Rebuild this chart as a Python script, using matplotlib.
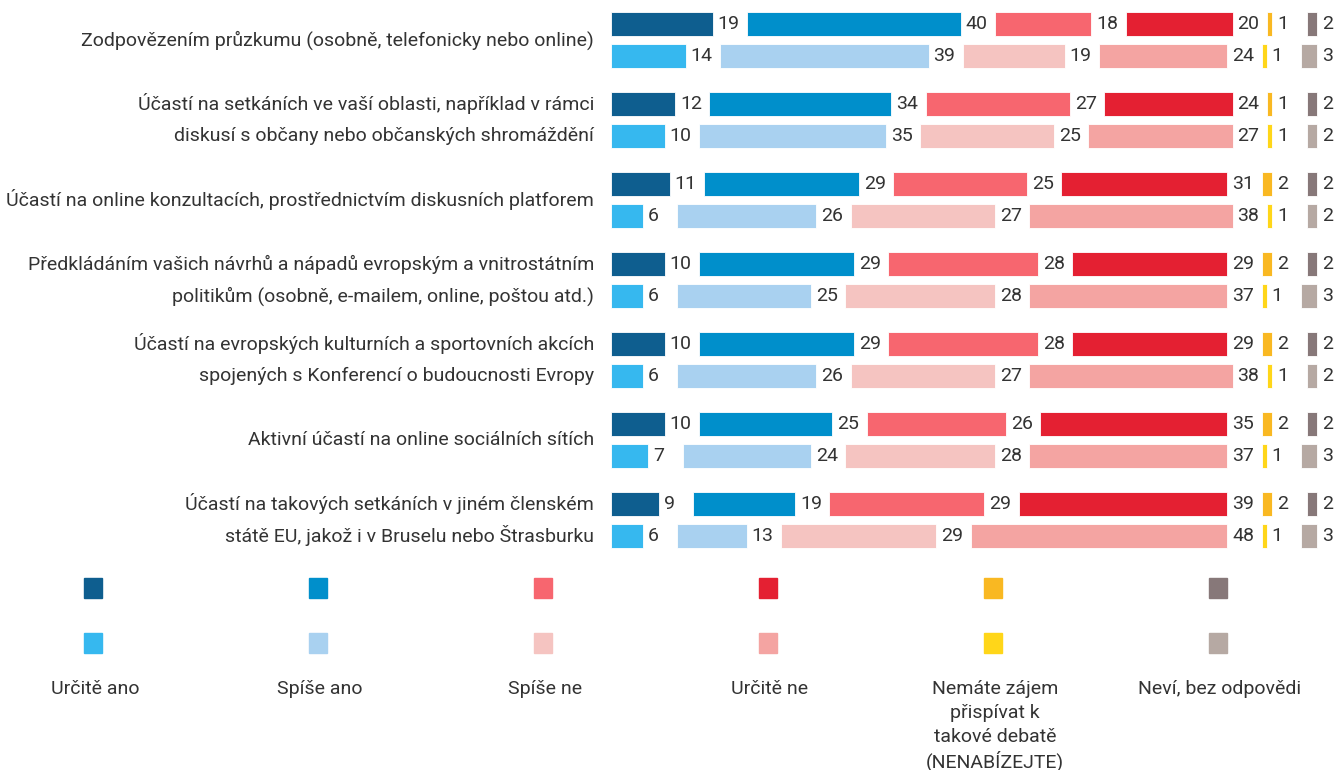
import matplotlib
matplotlib.use("Agg")
import matplotlib.pyplot as plt
from matplotlib import font_manager
from matplotlib.patches import Rectangle
from matplotlib.transforms import blended_transform_factory

names = {f.name for f in font_manager.fontManager.ttflist}
FONT = "Liberation Sans Narrow" if "Liberation Sans Narrow" in names else "Roboto"
plt.rcParams["font.family"] = [FONT, "DejaVu Sans"]

categories = [
    "Zodpovězením průzkumu (osobně, telefonicky nebo online)",
    "Účastí na setkáních ve vaší oblasti, například v rámci\ndiskusí s občany nebo občanských shromáždění",
    "Účastí na online konzultacích, prostřednictvím diskusních platforem",
    "Předkládáním vašich návrhů a nápadů evropským a vnitrostátním\npolitikům (osobně, e-mailem, online, poštou atd.)",
    "Účastí na evropských kulturních a sportovních akcích\nspojených s Konferencí o budoucnosti Evropy",
    "Aktivní účastí na online sociálních sítích",
    "Účastí na takových setkáních v jiném členském\nstátě EU, jakož i v Bruselu nebo Štrasburku",
]
series = ["Určitě ano", "Spíše ano", "Spíše ne", "Určitě ne",
          "Nemáte zájem\npřispívat k\ntakové debatě\n(NENABÍZEJTE)", "Neví, bez odpovědi"]

# dark (first) row values per category
row1 = [
    [19, 40, 18, 20, 1, 2],
    [12, 34, 27, 24, 1, 2],
    [11, 29, 25, 31, 2, 2],
    [10, 29, 28, 29, 2, 2],
    [10, 29, 28, 29, 2, 2],
    [10, 25, 26, 35, 2, 2],
    [9, 19, 29, 39, 2, 2],
]
# light (second) row values per category
row2 = [
    [14, 39, 19, 24, 1, 3],
    [10, 35, 25, 27, 1, 2],
    [6, 26, 27, 38, 1, 2],
    [6, 25, 28, 37, 1, 3],
    [6, 26, 27, 38, 1, 2],
    [7, 24, 28, 37, 1, 3],
    [6, 13, 29, 48, 1, 3],
]
colors1 = ["#0E5E8F", "#008FCB", "#F7666F", "#E42032", "#F9B822", "#877879"]
colors2 = ["#36B8EF", "#A9D1F0", "#F5C4C1", "#F4A4A2", "#FFD619", "#B6A9A3"]

TXT = "#333333"
FS = 14
W, H = 1335, 770
fig = plt.figure(figsize=(W / 100, H / 100), dpi=100)

# bar axes: x0 at 611 px, 5.35 px per unit
x0 = 611
ppu = 5.35
ax = fig.add_axes([x0 / W, (H - 560) / H, (W - x0) / W, 560 / H])
ax.set_xlim(0, (W - x0) / ppu)
ax.set_ylim(len(categories) - 0.5, -0.5)
ax.axis("off")

GAP = 6.4
OFF = 0.2
BH = 0.3
ltrans = blended_transform_factory(fig.transFigure, ax.transData)
for i, cat in enumerate(categories):
    for vals, cols, dy in ((row1[i], colors1, -OFF), (row2[i], colors2, OFF)):
        left = 0
        for v, c in zip(vals, cols):
            ax.barh(i + dy, v, left=left, height=BH, color=c,
                    edgecolor="white", linewidth=0.6)
            ax.text(left + v + 0.9, i + dy, str(v), va="center", ha="left",
                    fontsize=FS, color=TXT)
            left += v + GAP
    lines = cat.split("\n")
    ys = [i] if len(lines) == 1 else [i - OFF, i + OFF]
    for line, y in zip(lines, ys):
        fig.text((x0 - 17) / W, y, line, ha="right", va="center", fontsize=FS,
                 color=TXT, transform=ltrans)

# legend axes in pixel-like coordinates
lax = fig.add_axes([0, 0, 1, 1])
lax.set_xlim(0, W)
lax.set_ylim(H, 0)
lax.axis("off")
for k, name in enumerate(series):
    cx = 93 + k * 225
    lax.add_patch(Rectangle((cx - 9, 578), 18, 20, color=colors1[k]))
    lax.add_patch(Rectangle((cx - 9, 633), 18, 20, color=colors2[k]))
    for j, line in enumerate(name.split("\n")):
        lax.text(cx + 2, 689 + 24 * j, line, ha="center", va="center",
                 fontsize=FS, color=TXT)

fig.savefig("out.png", dpi=100)
